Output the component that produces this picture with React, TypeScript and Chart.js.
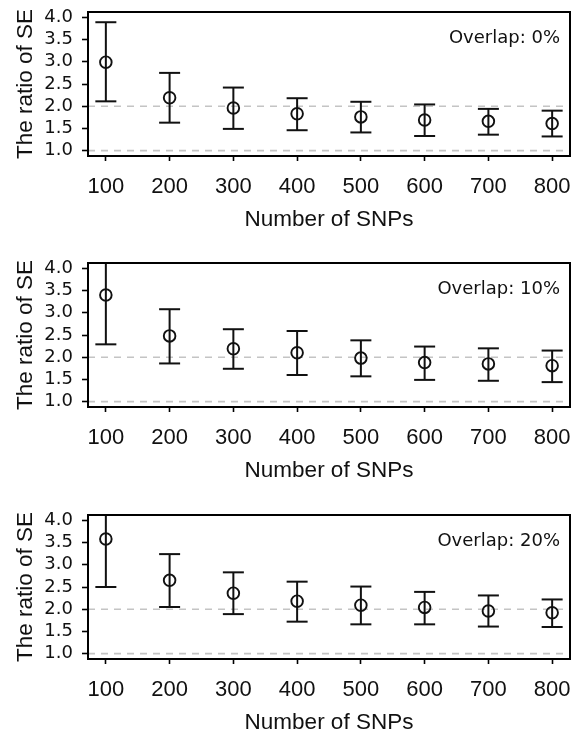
import React, { useEffect, useRef } from 'react';
import { Chart, registerables } from 'chart.js';

Chart.register(...registerables);

// ---- data ----
const SNPS = [100, 200, 300, 400, 500, 600, 700, 800];
const X_TICKS = [100, 200, 300, 400, 500, 600, 700, 800];
const Y_TICKS = [1, 1.5, 2, 2.5, 3, 3.5, 4];
const REF_LINES = [1, 2];
const PANEL_LABELS = ['Overlap: 0%', 'Overlap: 10%', 'Overlap: 20%'];

const MEAN_0 = [2.99, 2.19, 1.96, 1.83, 1.76, 1.69, 1.66, 1.61];
const LOW_0 = [2.11, 1.63, 1.49, 1.46, 1.41, 1.33, 1.36, 1.32];
const HIGH_0 = [3.89, 2.75, 2.42, 2.18, 2.1, 2.04, 1.94, 1.9];

const MEAN_10 = [3.4, 2.48, 2.19, 2.1, 1.98, 1.88, 1.85, 1.81];
const LOW_10 = [2.29, 1.86, 1.74, 1.6, 1.57, 1.49, 1.47, 1.44];
const HIGH_10 = [4.51, 3.08, 2.63, 2.59, 2.38, 2.24, 2.2, 2.15];

const MEAN_20 = [3.58, 2.65, 2.36, 2.18, 2.09, 2.04, 1.96, 1.92];
const LOW_20 = [2.5, 2.05, 1.89, 1.72, 1.66, 1.66, 1.61, 1.6];
const HIGH_20 = [4.66, 3.24, 2.83, 2.62, 2.51, 2.39, 2.31, 2.22];

const X_MIN = 72;
const X_MAX = 828;
const Y_MIN = 0.88;
const Y_MAX = 4.12;

const PANELS = [
  { label: PANEL_LABELS[0], mean: MEAN_0, low: LOW_0, high: HIGH_0 },
  { label: PANEL_LABELS[1], mean: MEAN_10, low: LOW_10, high: HIGH_10 },
  { label: PANEL_LABELS[2], mean: MEAN_20, low: LOW_20, high: HIGH_20 },
];

// ---- layout ----
const W = 571;
const H = 233;
const PANEL_TOPS = [0, 251, 503];

const ARIAL = '"Liberation Sans", Arial, Helvetica, sans-serif';
const WIDE = '"DejaVu Sans", sans-serif';

const boxPlugin = {
  id: 'frameBox',
  afterDatasetsDraw(chart: any) {
    const { ctx, chartArea: a } = chart;
    ctx.save();
    ctx.strokeStyle = '#000';
    ctx.lineWidth = 2;
    ctx.strokeRect(a.left, a.top, a.right - a.left, a.bottom - a.top);
    const txt = chart.options.plugins.panelLabel?.text;
    if (txt) {
      ctx.fillStyle = '#111';
      ctx.font = `18px ${WIDE}`;
      ctx.textAlign = 'right';
      ctx.textBaseline = 'alphabetic';
      ctx.fillText(txt, a.right - 10, a.top + 31);
    }
    ctx.restore();
  },
};

function Panel({ idx }: { idx: number }) {
  const ref = useRef<HTMLCanvasElement | null>(null);
  useEffect(() => {
    const p = PANELS[idx];
    const whiskers: any[] = [];
    SNPS.forEach((x, i) => {
      whiskers.push({ x, y: p.low[i] }, { x, y: p.high[i] }, { x, y: null });
    });
    const caps: any[] = [];
    SNPS.forEach((x, i) => {
      caps.push({ x, y: p.low[i] }, { x, y: p.high[i] });
    });
    const centers = SNPS.map((x, i) => ({ x, y: p.mean[i] }));
    const refSets = REF_LINES.map((v) => ({
      type: 'line',
      data: [
        { x: X_MIN, y: v },
        { x: X_MAX, y: v },
      ],
      borderColor: '#c4c4c4',
      borderWidth: 1.6,
      borderDash: [7, 6],
      pointRadius: 0,
      order: 10,
    }));
    const chart = new Chart(ref.current as HTMLCanvasElement, {
      type: 'scatter',
      data: {
        datasets: [
          ...(refSets as any[]),
          {
            type: 'line',
            data: whiskers,
            borderColor: '#111',
            borderWidth: 2,
            pointRadius: 0,
            spanGaps: false,
            order: 3,
          },
          {
            type: 'scatter',
            data: caps,
            pointStyle: 'line',
            pointRadius: 10.5,
            borderColor: '#111',
            borderWidth: 2,
            order: 2,
          },
          {
            type: 'scatter',
            data: centers,
            pointStyle: 'circle',
            pointRadius: 5.8,
            borderColor: '#111',
            backgroundColor: 'rgba(0,0,0,0)',
            borderWidth: 1.9,
            order: 1,
          },
        ],
      },
      options: {
        animation: false,
        responsive: false,
        events: [],
        layout: { autoPadding: false, padding: { top: 12, right: 1, left: 0, bottom: 0 } },
        plugins: {
          legend: { display: false },
          tooltip: { enabled: false },
          panelLabel: { text: p.label },
        } as any,
        scales: {
          x: {
            type: 'linear',
            min: X_MIN,
            max: X_MAX,
            afterBuildTicks: (s: any) => {
              s.ticks = X_TICKS.map((v) => ({ value: v }));
            },
            afterFit: (s: any) => {
              s.height = 77;
              s.paddingLeft = 0;
              s.paddingRight = 0;
            },
            border: { display: false },
            grid: {
              drawOnChartArea: false,
              drawTicks: true,
              tickLength: 5,
              tickColor: '#000',
              tickWidth: 1.6,
            },
            ticks: {
              color: '#111',
              font: { family: ARIAL, size: 22 },
              padding: 13,
              maxRotation: 0,
              autoSkip: false,
              callback: (v: any) => String(v),
            },
            title: {
              display: true,
              text: 'Number of SNPs',
              color: '#111',
              font: { family: ARIAL, size: 22.5 },
              padding: { top: 0, bottom: 0 },
            },
          },
          y: {
            type: 'linear',
            min: Y_MIN,
            max: Y_MAX,
            afterBuildTicks: (s: any) => {
              s.ticks = Y_TICKS.map((v) => ({ value: v }));
            },
            afterFit: (s: any) => {
              s.width = 88;
              s.paddingTop = 0;
              s.paddingBottom = 0;
            },
            border: { display: false },
            grid: {
              drawOnChartArea: false,
              drawTicks: true,
              tickLength: 6,
              tickColor: '#000',
              tickWidth: 1.6,
            },
            ticks: {
              color: '#111',
              font: { family: WIDE, size: 18 },
              padding: 9,
              autoSkip: false,
              callback: (v: any) => Number(v).toFixed(1),
            },
            title: {
              display: true,
              text: 'The ratio of SE',
              color: '#111',
              font: { family: ARIAL, size: 22.5 },
              padding: { top: 12, bottom: 0 },
            },
          },
        },
      },
      plugins: [boxPlugin],
    } as any);
    return () => chart.destroy();
  }, [idx]);
  return (
    <canvas
      ref={ref}
      width={W}
      height={H}
      style={{ position: 'absolute', left: 0, top: PANEL_TOPS[idx], width: W, height: H, display: 'block' }}
    />
  );
}

export default function App() {
  return (
    <div style={{ position: 'fixed', left: 0, top: 0, width: W, height: 736, background: '#fff' }}>
      <Panel idx={0} />
      <Panel idx={1} />
      <Panel idx={2} />
    </div>
  );
}
